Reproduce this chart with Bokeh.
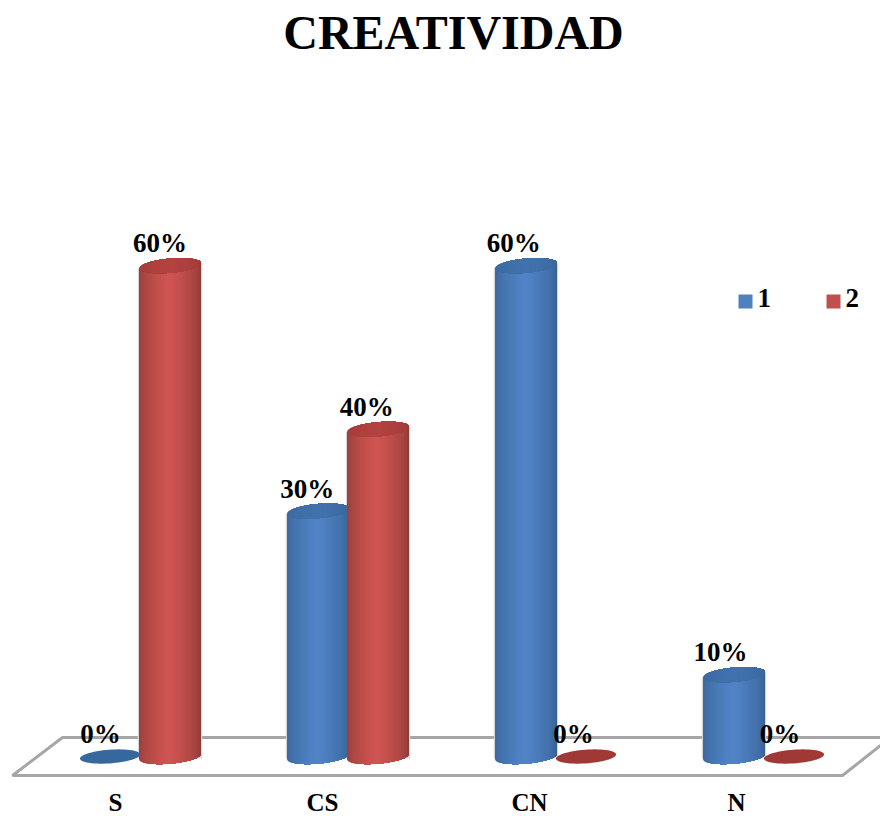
import numpy as np
from bokeh.plotting import figure
from bokeh.core.properties import value
from bokeh.embed import file_html
from bokeh.resources import INLINE

# Chart content
title = "CREATIVIDAD"
categories = ["S", "CS", "CN", "N"]
series_names = ["1", "2"]
series_1 = [0, 30, 60, 10]
series_2 = [60, 40, 0, 0]

W, H = 880, 816
BASE_PX = 756          # canvas row of the 0 % level
PX_PER_PCT = 8.18
GROUP0_PX = 139.5      # canvas column of the first group's centre
GROUP_PX = 208.0
BASELINE_SHIFT = 0.383 # SVG text sits this many font sizes below the anchor

FONT = value("Liberation Serif")

# Data ranges chosen so one percent and one group have fixed canvas sizes
p = figure(
    width=W, height=H, output_backend="svg", toolbar_location=None,
    x_range=(-GROUP0_PX / GROUP_PX, (W - GROUP0_PX) / GROUP_PX),
    y_range=((BASE_PX - H) / PX_PER_PCT, BASE_PX / PX_PER_PCT),
    min_border=0, outline_line_color=None, background_fill_color="white",
    border_fill_color="white",
)
p.axis.visible = False
p.grid.visible = False


def dx(px):
    return np.asarray(px, dtype=float) / GROUP_PX


def dy(px):
    return np.asarray(px, dtype=float) / PX_PER_PCT


def col_x(px):
    return (px - GROUP0_PX) / GROUP_PX


def row_y(px):
    return (BASE_PX - px) / PX_PER_PCT


def mix(c1, c2, t):
    rgb = [round(a + (b - a) * t) for a, b in zip(c1, c2)]
    return "#%02x%02x%02x" % tuple(rgb)


def draw_text(xs, rows, texts, size, align="center"):
    # rows are wanted baselines in canvas pixels
    ys = [row_y(r - BASELINE_SHIFT * size) for r in rows]
    p.text(xs, ys, text=texts, text_font=FONT, text_font_style="bold",
           text_font_size=f"{size}px", text_color="#000000", text_align=align,
           text_baseline="alphabetic")


# Floor of the 3D plot, drawn as a grey open frame
floor_px = [(880, 745), (842, 775), (12, 775), (62, 737), (880, 737)]
p.line(
    [col_x(a) for a, _ in floor_px], [row_y(b) for _, b in floor_px],
    line_color="#a6a6a6", line_width=3,
)

# Cylinder geometry, canvas pixels
RX = 31.0
RY = 7.2
SHEAR = 0.085
STRIPS = 40
BAR_OFFSET = 30.0

PALETTE = {
    0: dict(edge=(52, 92, 140), mid=(80, 132, 198), top=(56, 102, 156), lit=(66, 114, 172), flat=(54, 104, 158)),
    1: dict(edge=(130, 56, 54), mid=(208, 84, 80), top=(154, 58, 56), lit=(180, 66, 64), flat=(160, 56, 54)),
}


def half_height(u):
    return RY * np.sqrt(np.clip(1 - (u / RX) ** 2, 0, 1))


def body_shade(frac):
    # frac runs 0..1 across the cylinder; the highlight sits a little left of centre
    return min(1.0, (1 - abs(frac - 0.48) / 0.52) ** 0.5 * 1.03)


def nested_strips(cx, base, top_fn, low_fn, colour_fn):
    # Each strip runs on to the right edge, so later strips paint over it without seams
    edges = np.linspace(-RX, RX, STRIPS + 1)
    for i in range(STRIPS):
        span = np.linspace(edges[i], RX, 4 * (STRIPS - i) + 2)
        xs = np.concatenate([span, span[::-1]])
        ys = np.concatenate([low_fn(span), top_fn(span[::-1])])
        p.patch(cx + dx(xs), base + dy(ys), fill_color=colour_fn((i + 0.5) / STRIPS), line_color=None)


def draw_fringe(cx, val):
    # Faint grey fringe behind the cylinder's sides
    if val > 0:
        p.varea(x=[cx + dx(-RX - 1.2), cx + dx(RX + 1.2)], y1=[dy(-2), dy(-2)],
                y2=[val + dy(-RX * SHEAR), val + dy(RX * SHEAR)], fill_color="#d6d6d6")


def draw_cylinder(cx, val, series):
    pal = PALETTE[series]
    if val == 0:
        t = np.linspace(0, 2 * np.pi, 60)
        u = RX * 0.97 * np.cos(t)
        v = u * SHEAR * 0.8 + RY * 0.95 * np.sin(t)
        p.patch(cx + dx(u), dy(v), fill_color=pal["flat"], line_color=None)
        return
    level_px = val * PX_PER_PCT
    nested_strips(
        cx, 0,
        lambda u: level_px + u * SHEAR,
        lambda u: u * SHEAR - half_height(u),
        lambda f: mix(pal["edge"], pal["mid"], body_shade(f)),
    )
    # Top face, slightly brighter towards its middle
    nested_strips(
        cx, val,
        lambda u: u * SHEAR + half_height(u),
        lambda u: u * SHEAR - half_height(u),
        lambda f: mix(pal["top"], pal["lit"], body_shade(f)),
    )


# Fringes go down first so that neighbouring cylinders sit cleanly side by side
for g in range(len(categories)):
    draw_fringe(g - dx(BAR_OFFSET), series_1[g])
    draw_fringe(g + dx(BAR_OFFSET), series_2[g])

for g in range(len(categories)):
    draw_cylinder(g - dx(BAR_OFFSET), series_1[g], 0)
    draw_cylinder(g + dx(BAR_OFFSET), series_2[g], 1)

# Value labels above each cylinder; they drift left of their cylinder towards the right
lab_x, lab_y, lab_t = [], [], []
for g in range(len(categories)):
    for off, v in ((-BAR_OFFSET, series_1[g]), (BAR_OFFSET, series_2[g])):
        bar_px = GROUP0_PX + g * GROUP_PX + off
        lab_x.append(col_x(bar_px - 9.5 - 0.0065 * (bar_px - GROUP0_PX + BAR_OFFSET)))
        lab_y.append(BASE_PX - v * PX_PER_PCT - 12)
        lab_t.append(f"{v}%")
draw_text(lab_x, lab_y, lab_t, 27)

# Category names under the floor
draw_text([col_x(GROUP0_PX + g * GROUP_PX - 24.5 - g) for g in range(len(categories))],
          [812] * len(categories), categories, 25)

# Title
draw_text([col_x(453)], [50], [title], 48)

# Legend
for sw_px, name, colour in ((745, series_names[0], "#4f81bd"), (833, series_names[1], "#c0504d")):
    p.scatter([col_x(sw_px)], [row_y(301)], marker="square", size=14,
              fill_color=colour, line_color=None)
    draw_text([col_x(sw_px + 12)], [308], [name], 27, align="left")

open("out.html", "w").write(file_html(p, INLINE))
